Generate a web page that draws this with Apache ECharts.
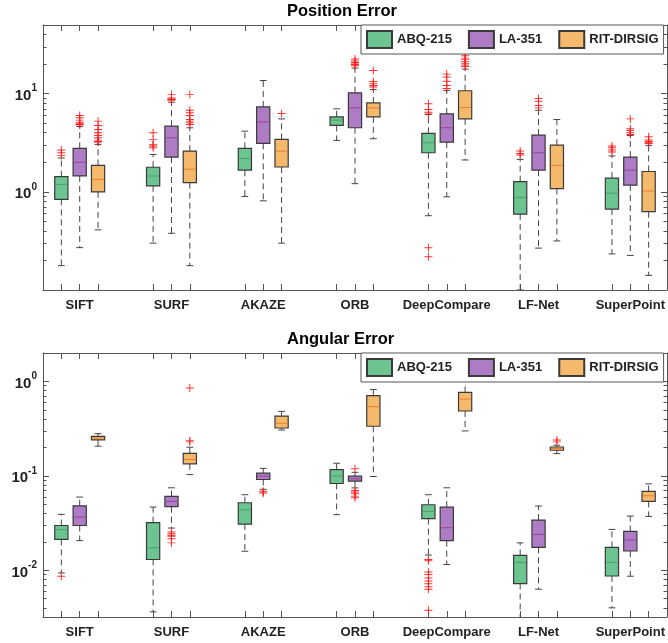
<!DOCTYPE html>
<html>
<head>
<meta charset="utf-8">
<title>Position / Angular Error</title>
<script src="https://cdn.jsdelivr.net/npm/echarts@6/dist/echarts.min.js"></script>
<style>
  html, body { margin: 0; padding: 0; background: #fff; }
  #main { width: 668px; height: 643px; }
</style>
</head>
<body>
<div id="main"></div>
<script>
// methods on the x axis, datasets in the legend
var methods = ['SIFT', 'SURF', 'AKAZE', 'ORB', 'DeepCompare', 'LF-Net', 'SuperPoint'];
var datasets = ['ABQ-215', 'LA-351', 'RIT-DIRSIG'];

// box stats per method: [lower whisker, q1, median, q3, upper whisker]
var posABQ = [
  [0.177, 0.836, 1.19, 1.43, 2.21],
  [0.30, 1.15, 1.45, 1.78, 2.4],
  [0.897, 1.66, 2.18, 2.77, 4.15],
  [3.34, 4.74, 5.37, 5.8, 7.0],
  [0.571, 2.5, 3.16, 3.93, 6.12],
  [0.1, 0.594, 0.876, 1.27, 2.14],
  [0.233, 0.667, 0.969, 1.38, 2.32]
];
var posLA = [
  [0.27, 1.45, 2.0, 2.77, 4.63],
  [0.378, 2.26, 3.55, 4.66, 8.17],
  [0.81, 3.11, 5.16, 7.32, 13.6],
  [1.21, 4.49, 7.16, 10.2, 18.2],
  [0.89, 3.21, 4.49, 6.22, 10.8],
  [0.267, 1.66, 2.5, 3.78, 6.78],
  [0.225, 1.17, 1.66, 2.26, 3.75]
];
var posRIT = [
  [0.41, 1.0, 1.34, 1.86, 3.04],
  [0.177, 1.24, 1.70, 2.6, 4.49],
  [0.30, 1.79, 2.6, 3.42, 5.53],
  [3.47, 5.8, 7.16, 8.04, 11.0],
  [2.11, 5.53, 7.21, 10.7, 17.8],
  [0.316, 1.08, 1.86, 2.99, 5.45],
  [0.141, 0.627, 1.02, 1.61, 2.97]
];
// outliers per method
var posOutABQ = [
  [2.35, 2.5, 2.67], [2.81, 2.93, 3.02, 3.42, 3.99], [], [],
  [0.218, 0.269, 6.22, 6.46, 6.88, 7.9], [2.37, 2.46, 2.6], [2.54, 2.66, 2.81, 2.93]
];
var posOutLA = [
  [4.81, 4.85, 4.93, 5.12, 5.37, 5.67, 5.98], [8.55, 8.7, 8.8, 9.04, 9.77], [],
  [19.2, 19.8, 20.1, 20.8, 21.5, 22.5], [11.3, 12.1, 13.4, 14.8, 15.8],
  [7.16, 7.57, 8.37, 8.9], [3.84, 3.99, 4.21, 4.38, 5.53]
];
var posOutRIT = [
  [3.21, 3.26, 3.36, 3.55, 3.75, 3.99, 4.32, 4.74, 5.25],
  [4.85, 5.04, 5.25, 5.45, 5.99, 6.4, 6.78, 9.77], [6.27],
  [11.7, 12.1, 12.6, 13.3, 17.2], [18.9, 19.6, 20.4, 21.3, 22.2, 23.0, 24.3, 25.8],
  [], [3.11, 3.19, 3.26, 3.37, 3.64]
];

var angABQ = [
  [0.00938, 0.0212, 0.0269, 0.0298, 0.0391],
  [0.00363, 0.013, 0.0173, 0.0319, 0.0467],
  [0.0159, 0.0308, 0.0437, 0.0519, 0.0631],
  [0.0388, 0.083, 0.0992, 0.1166, 0.136],
  [0.0145, 0.0352, 0.042, 0.0494, 0.0631],
  [0.003, 0.00723, 0.0121, 0.0144, 0.0195],
  [0.004, 0.0087, 0.0121, 0.0175, 0.0271]
];
var angLA = [
  [0.0206, 0.0298, 0.0366, 0.0482, 0.0596],
  [0.028, 0.0471, 0.0536, 0.0605, 0.0747],
  [0.072, 0.0915, 0.0992, 0.107, 0.12],
  [0.0745, 0.0878, 0.093, 0.0992, 0.109],
  [0.0115, 0.0206, 0.0282, 0.0467, 0.0747],
  [0.0063, 0.0175, 0.024, 0.034, 0.0479],
  [0.00865, 0.016, 0.0209, 0.0258, 0.0375]
];
var angRIT = [
  [0.206, 0.240, 0.252, 0.262, 0.28],
  [0.103, 0.134, 0.149, 0.173, 0.201],
  [0.306, 0.321, 0.36, 0.43, 0.482],
  [0.0984, 0.335, 0.54, 0.706, 0.822],
  [0.299, 0.486, 0.65, 0.766, 1.016],
  [0.172, 0.1866, 0.1944, 0.202, 0.211],
  [0.0372, 0.0536, 0.0615, 0.0684, 0.0823]
];
var angOutABQ = [
  [0.00865], [], [], [],
  [0.00378, 0.0063, 0.0067, 0.0072, 0.0077, 0.0083, 0.009, 0.0096, 0.0126, 0.013],
  [], []
];
var angOutLA = [
  [], [0.0195, 0.0216, 0.0229, 0.0235, 0.0244, 0.0254], [0.0656, 0.0673, 0.0689],
  [0.0585, 0.061, 0.0645, 0.0673, 0.07, 0.1186], [], [], []
];
var angOutRIT = [
  [], [0.229, 0.236, 0.851], [], [], [], [0.229, 0.24], []
];

// y tick values (log axes)
var posMajor = [1, 10];
var posMinor = [0.2, 0.3, 0.4, 0.5, 0.6, 0.7, 0.8, 0.9, 2, 3, 4, 5, 6, 7, 8, 9, 20, 30, 40];
var angMajor = [0.01, 0.1, 1];
var angMinor = [0.004, 0.005, 0.006, 0.007, 0.008, 0.009, 0.02, 0.03, 0.04, 0.05, 0.06, 0.07, 0.08, 0.09,
                0.2, 0.3, 0.4, 0.5, 0.6, 0.7, 0.8, 0.9];

var fills = ['#6cc591', '#ad7cc5', '#f5b96b'];
var medians = ['#4f9d6e', '#9b3f98', '#f07b2c'];
var offsets = [-0.2, 0, 0.2];
var BOX_HALF = 0.072;
var CAP_HALF = 0.037;
var FONT = 'Liberation Sans, Arial, Helvetica, sans-serif';
var INK = '#222';
var EDGE = '#3a3a3a';

var boxTicks = [];
methods.forEach(function (m, i) {
  offsets.forEach(function (o) { boxTicks.push(i + 1 + o); });
});

function boxRows(stats, d) {
  return stats.map(function (s, m) { return [m + 1 + offsets[d]].concat(s); });
}
function outRows(outs, d) {
  var rows = [];
  outs.forEach(function (list, m) {
    list.forEach(function (v) { rows.push([m + 1 + offsets[d], v]); });
  });
  return rows;
}

function boxRenderer(d) {
  return function (params, api) {
    var x = api.value(0);
    var lw = api.coord([x, api.value(1)]);
    var q1 = api.coord([x, api.value(2)]);
    var md = api.coord([x, api.value(3)]);
    var q3 = api.coord([x, api.value(4)]);
    var uw = api.coord([x, api.value(5)]);
    var cx = md[0];
    var hw = api.coord([x + BOX_HALF, api.value(3)])[0] - cx;
    var ch = api.coord([x + CAP_HALF, api.value(3)])[0] - cx;
    var dash = { stroke: '#444', lineWidth: 1, lineDash: [6, 4] };
    var solid = { stroke: '#444', lineWidth: 1 };
    return {
      type: 'group',
      children: [
        { type: 'line', shape: { x1: cx, y1: q3[1], x2: cx, y2: uw[1] }, style: dash },
        { type: 'line', shape: { x1: cx, y1: q1[1], x2: cx, y2: lw[1] }, style: dash },
        { type: 'line', shape: { x1: cx - ch, y1: uw[1], x2: cx + ch, y2: uw[1] }, style: solid },
        { type: 'line', shape: { x1: cx - ch, y1: lw[1], x2: cx + ch, y2: lw[1] }, style: solid },
        { type: 'rect', shape: { x: cx - hw, y: q3[1], width: 2 * hw, height: q1[1] - q3[1] },
          style: { fill: fills[d], stroke: EDGE, lineWidth: 1.2 } },
        { type: 'line', shape: { x1: cx - hw + 1, y1: md[1], x2: cx + hw - 1, y2: md[1] },
          style: { stroke: medians[d], lineWidth: 1 } }
      ]
    };
  };
}

function makeX(g) {
  var common = {
    gridIndex: g, type: 'value', min: 0.6, max: 7.4,
    splitLine: { show: false },
    axisLine: { show: true, onZero: false, lineStyle: { color: '#555', width: 1 } },
    axisTick: { show: true, inside: true, length: 6, customValues: boxTicks, lineStyle: { color: '#555' } }
  };
  return [
    Object.assign({}, common, {
      position: 'bottom',
      axisLabel: {
        customValues: [1, 2, 3, 4, 5, 6, 7],
        formatter: function (v) { return methods[Math.round(v) - 1]; },
        fontSize: 13, fontWeight: 'bold', color: INK, fontFamily: FONT, margin: 9
      }
    }),
    Object.assign({}, common, { position: 'top', axisLabel: { show: false } })
  ];
}

function makeY(g, min, max, majors, minors) {
  function axis(pos, ticks, len, line, labels) {
    return {
      gridIndex: g, type: 'log', logBase: 10, min: min, max: max, position: pos,
      splitLine: { show: false },
      axisLine: { show: line, onZero: false, lineStyle: { color: '#555', width: 1 } },
      axisTick: { show: true, inside: true, length: len, customValues: ticks, lineStyle: { color: '#555' } },
      axisLabel: labels ? {
        customValues: majors, margin: 6,
        formatter: function (v) {
          var e = Math.round(Math.log(v) / Math.LN10);
          return '{b|10}{s|' + e + '}';
        },
        rich: {
          b: { fontSize: 15, fontWeight: 'bold', color: INK, fontFamily: FONT, verticalAlign: 'bottom', lineHeight: 20 },
          s: { fontSize: 10, fontWeight: 'bold', color: INK, fontFamily: FONT, verticalAlign: 'top', lineHeight: 20 }
        }
      } : { show: false }
    };
  }
  return [
    axis('left', majors, 6, true, true),
    axis('left', minors, 3.5, false, false),
    axis('right', majors, 6, true, false),
    axis('right', minors, 3.5, false, false)
  ];
}

var panels = [
  { title: 'Position Error', stats: [posABQ, posLA, posRIT], outs: [posOutABQ, posOutLA, posOutRIT] },
  { title: 'Angular Error', stats: [angABQ, angLA, angRIT], outs: [angOutABQ, angOutLA, angOutRIT] }
];

var series = [];
panels.forEach(function (p, g) {
  datasets.forEach(function (name, d) {
    series.push({
      type: 'custom', name: name, xAxisIndex: 2 * g, yAxisIndex: 4 * g, clip: true,
      itemStyle: { color: fills[d], borderColor: EDGE, borderWidth: 1 },
      renderItem: boxRenderer(d),
      encode: { x: 0, y: [1, 2, 3, 4, 5] },
      data: boxRows(p.stats[d], d),
      z: 2
    });
  });
  datasets.forEach(function (name, d) {
    series.push({
      type: 'scatter', name: name + ' outliers', xAxisIndex: 2 * g, yAxisIndex: 4 * g,
      symbol: 'path://M4.4 0H5.6V10H4.4Z M0 4.4H10V5.6H0Z', symbolSize: 8,
      itemStyle: { color: '#ff1a1a', opacity: 0.9 },
      data: outRows(p.outs[d], d),
      z: 3
    });
  });
});

var legendBase = {
  data: datasets, left: 361, icon: 'rect', orient: 'horizontal',
  itemWidth: 25, itemHeight: 17, itemGap: 16, padding: [5, 5, 5, 5],
  backgroundColor: '#fff', borderColor: '#555', borderWidth: 1,
  textStyle: { fontSize: 13, fontWeight: 'bold', color: INK, fontFamily: FONT },
  selectedMode: false, z: 10
};

var chart = echarts.init(document.getElementById('main'));
chart.setOption({
  animation: false,
  backgroundColor: '#fff',
  textStyle: { fontFamily: FONT },
  title: panels.map(function (p, g) {
    return {
      text: p.title, left: 287, top: g === 0 ? 3 : 331, padding: 0,
      textStyle: { fontSize: 16.5, fontWeight: 'bold', color: '#000', fontFamily: FONT }
    };
  }),
  legend: [
    Object.assign({}, legendBase, { top: 25 }),
    Object.assign({}, legendBase, { top: 353 })
  ],
  grid: [
    { left: 43, top: 25, width: 624, height: 265 },
    { left: 43, top: 353, width: 624, height: 264 }
  ],
  xAxis: makeX(0).concat(makeX(1)),
  yAxis: makeY(0, 0.1, 50, posMajor, posMinor).concat(makeY(1, 0.0032, 2, angMajor, angMinor)),
  series: series
});
</script>
</body>
</html>
